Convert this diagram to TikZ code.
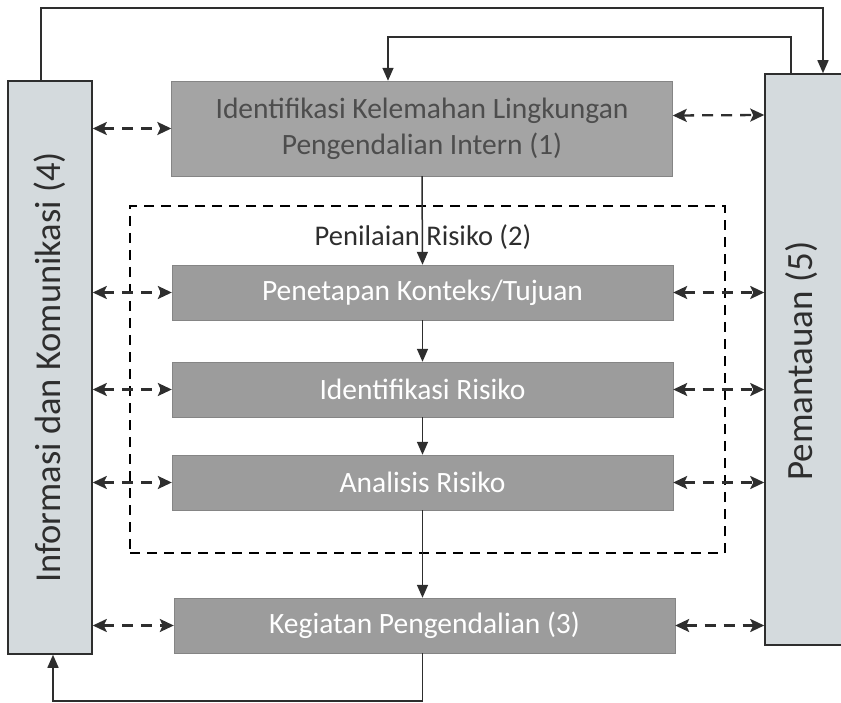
\documentclass[tikz,border=0pt]{standalone}
\usepackage{fontspec}
\setmainfont{Carlito}
\usetikzlibrary{arrows.meta}
\definecolor{sidefill}{HTML}{D4DADD}
\definecolor{procfill}{HTML}{9C9C9C}
\definecolor{topfill}{HTML}{A4A4A4}
\definecolor{linec}{HTML}{2E2E2E}
\tikzset{
  sidebox/.style={draw=linec, line width=1.5pt, fill=sidefill, minimum width=84pt, inner sep=0pt},
  procbox/.style={draw=procfill!85!black, line width=0.4pt, fill=procfill, minimum width=501pt, minimum height=55pt, inner sep=0pt, text=white, font=\fontsize{29.5}{34}\selectfont},
  sarrow/.style={draw=linec, line width=1.5pt, -{Triangle[length=13pt,width=11pt]}},
  darrow/.style={draw=linec, line width=2.3pt, dash pattern=on 11pt off 8pt, {Stealth[length=14pt,width=13pt,inset=3pt]}-{Stealth[length=14pt,width=13pt,inset=3pt]}},
  groupbox/.style={draw=black, line width=1.8pt, dash pattern=on 10pt off 7pt},
}
\begin{document}
\begin{tikzpicture}[x=1pt,y=-1pt]
\useasboundingbox (0,0) rectangle (841,703);
\begin{scope}
\clip (0,0) rectangle (841,703);
% side boxes
\node[sidebox, minimum height=573pt] (L) at (50,367.5) {};
\node[rotate=90, text=linec, font=\fontsize{36.5}{40}\selectfont] (Ltext) at (L.center) {Informasi dan Komunikasi (4)};
\node[sidebox, minimum height=571pt, minimum width=90pt] (R) at (810,359.5) {};
\node[rotate=90, text=linec, font=\fontsize{37}{40}\selectfont] (Rtext) at (802,361) {Pemantauan (5)};
\end{scope}
% dashed group
\node[groupbox, minimum width=595pt, minimum height=347pt, inner sep=0pt] (G) at (427.5,379.5) {};
\node[text=linec, font=\fontsize{28.5}{32}\selectfont] (Gtext) at (423,237) {Penilaian Risiko (2)};
% process boxes
\node[procbox, fill=topfill, minimum height=95pt, text=linec!85, align=center, font=\fontsize{29.5}{36}\selectfont] (b1) at (422,128.5) {\raisebox{-4pt}{}Identifikasi Kelemahan Lingkungan\\Pengendalian Intern (1)};
\node[procbox] (b2) at (422.5,292.5) {Penetapan Konteks/Tujuan};
\node[procbox] (b3) at (422.5,389.5) {Identifikasi Risiko};
\node[procbox] (b4) at (422.5,482.5) {Analisis Risiko};
\node[procbox] (b5) at (424.5,625.5) {Kegiatan Pengendalian (3)};
% vertical flow
\draw[sarrow] (b1.south) -- (b2.north);
\draw[sarrow] (b2.south) -- (b3.north);
\draw[sarrow] (b3.south) -- (b4.north);
\draw[sarrow] (b4.south) -- (b4.south |- b5.north);
% feedback loops
\coordinate (t1) at ([xshift=-9pt]L.north);
\coordinate (t2) at ([xshift=13pt]R.north);
\draw[sarrow] (t1) -- (t1 |- 0,8) -- (t2 |- 0,8) -- (t2);
\coordinate (u1) at ([xshift=-19pt]R.north);
\coordinate (u2) at ([xshift=-34pt]b1.north);
\draw[sarrow] (u1) -- (u1 |- 0,37) -- (u2 |- 0,37) -- (u2);
\coordinate (v1) at ([xshift=-2pt]b5.south);
\coordinate (v2) at ([xshift=3pt]L.south);
\draw[sarrow] (v1) -- (v1 |- 0,701) -- (v2 |- 0,701) -- (v2);
% dashed two-way links
\draw[darrow] (L.east |- b1.west) -- (b1.west);
\draw[darrow] ([yshift=13pt]b1.east) -- (R.west |- 0,115);
\foreach \n in {b2,b3,b4,b5}{
  \draw[darrow] (L.east |- \n.west) -- (\n.west);
  \draw[darrow] (\n.east) -- (R.west |- \n.east);
}
\end{tikzpicture}
\end{document}
